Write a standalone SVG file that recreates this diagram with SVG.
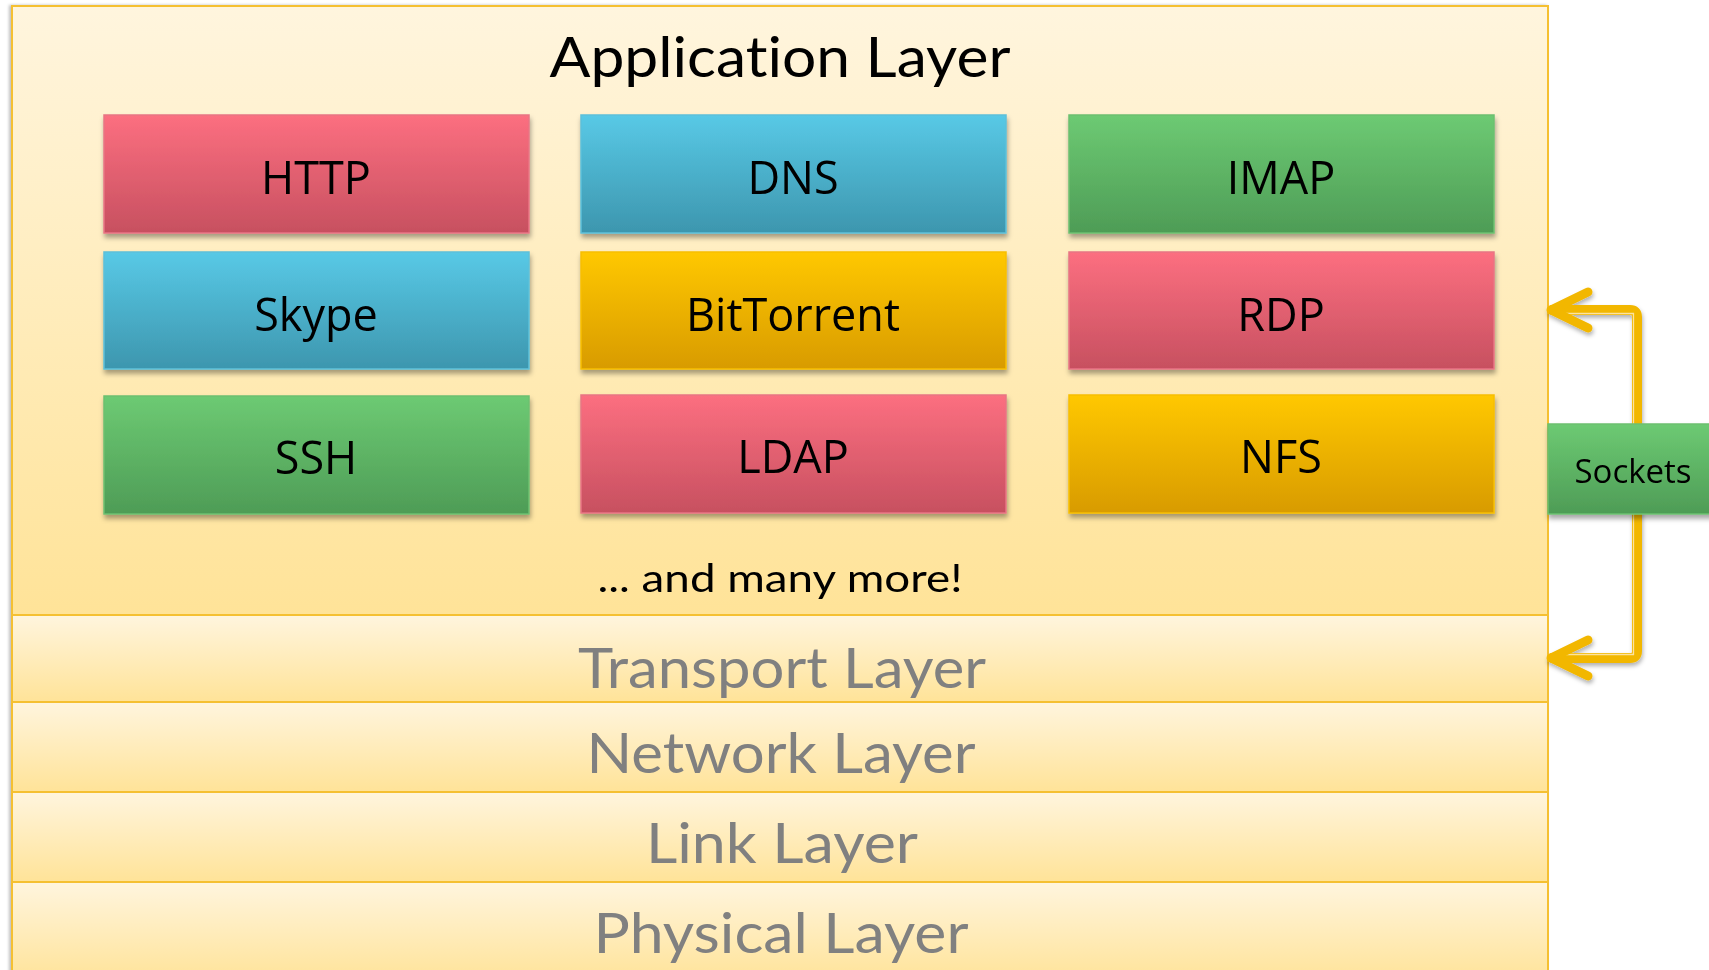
<svg xmlns="http://www.w3.org/2000/svg" width="1709" height="970" viewBox="0 0 1709 970">
<defs>
<linearGradient id="gApp" x1="0" y1="0" x2="0" y2="1"><stop offset="0" stop-color="#FFF5DE"/><stop offset="1" stop-color="#FFE398"/></linearGradient>
<linearGradient id="gBand" x1="0" y1="0" x2="0" y2="1"><stop offset="0" stop-color="#FFF5DE"/><stop offset="1" stop-color="#FFE398"/></linearGradient>
<linearGradient id="gRed" x1="0" y1="0" x2="0" y2="1"><stop offset="0" stop-color="#FC6F80"/><stop offset="1" stop-color="#C75060"/></linearGradient>
<linearGradient id="gBlue" x1="0" y1="0" x2="0" y2="1"><stop offset="0" stop-color="#58C9E6"/><stop offset="1" stop-color="#3D96AE"/></linearGradient>
<linearGradient id="gGreen" x1="0" y1="0" x2="0" y2="1"><stop offset="0" stop-color="#6DCA73"/><stop offset="1" stop-color="#4E9C56"/></linearGradient>
<linearGradient id="gGold" x1="0" y1="0" x2="0" y2="1"><stop offset="0" stop-color="#FFC800"/><stop offset="1" stop-color="#D89B00"/></linearGradient>
<filter id="sh" x="-10%" y="-20%" width="120%" height="150%"><feDropShadow dx="1" dy="4" stdDeviation="2.5" flood-color="#000" flood-opacity="0.35"/></filter>
<filter id="shL" x="-5%" y="-5%" width="110%" height="110%"><feDropShadow dx="-2" dy="0" stdDeviation="1.5" flood-color="#000" flood-opacity="0.25"/></filter>
<filter id="shA" x="-20%" y="-20%" width="140%" height="140%"><feDropShadow dx="1" dy="3" stdDeviation="2" flood-color="#000" flood-opacity="0.3"/></filter>
</defs>
<style>
text{font-variant-ligatures:none}
.band{stroke:#F5C030;stroke-width:2}
.box{stroke-width:1.5}
.bl{font-family:"Open Sans","Noto Sans",sans-serif;font-size:45px;fill:#000;text-anchor:middle}
.layer{font-family:Lato,"Noto Sans",sans-serif;font-size:57px;fill:#808080;text-anchor:middle}
.title{font-family:Lato,"Noto Sans",sans-serif;font-size:56px;fill:#000;text-anchor:middle}
.more{font-family:Lato,"Noto Sans",sans-serif;font-size:39px;fill:#000;text-anchor:middle}
.conn{fill:none;stroke:#F2B700;stroke-width:10;stroke-linecap:round;stroke-linejoin:round}
.connIn{fill:none;stroke:#FCE3A0;stroke-width:1.3}
.head{fill:none;stroke:#F2B700;stroke-width:9;stroke-linecap:round;stroke-linejoin:round}
</style>
<rect width="1709" height="970" fill="#FFFFFF"/>

<g id="layers" filter="url(#shL)">
<g id="application-layer">
<rect class="band" x="12" y="6" width="1536" height="609" fill="url(#gApp)"/>
<text class="title" x="780" y="77" textLength="461" lengthAdjust="spacingAndGlyphs">Application Layer</text>
<text class="more" x="780" y="592" textLength="365" lengthAdjust="spacingAndGlyphs">... and many more!</text>
</g>
<g id="transport-layer">
<rect class="band" x="12" y="615" width="1536" height="87" fill="url(#gBand)"/>
<text class="layer" x="782" y="688" textLength="408" lengthAdjust="spacingAndGlyphs">Transport Layer</text>
</g>
<g id="network-layer">
<rect class="band" x="12" y="702" width="1536" height="90" fill="url(#gBand)"/>
<text class="layer" x="781" y="773" textLength="389" lengthAdjust="spacingAndGlyphs">Network Layer</text>
</g>
<g id="link-layer">
<rect class="band" x="12" y="792" width="1536" height="90" fill="url(#gBand)"/>
<text class="layer" x="782" y="863" textLength="272" lengthAdjust="spacingAndGlyphs">Link Layer</text>
</g>
<g id="physical-layer">
<rect class="band" x="12" y="882" width="1536" height="100" fill="url(#gBand)"/>
<text class="layer" x="781" y="953" textLength="375" lengthAdjust="spacingAndGlyphs">Physical Layer</text>
</g>
</g>

<g id="http" filter="url(#sh)"><rect class="box" x="104" y="115" width="425" height="118" fill="url(#gRed)" stroke="#E87584"/><text class="bl" x="316" y="194">HTTP</text></g>
<g id="dns" filter="url(#sh)"><rect class="box" x="581" y="115" width="425" height="118" fill="url(#gBlue)" stroke="#5CC0DA"/><text class="bl" x="793" y="194">DNS</text></g>
<g id="imap" filter="url(#sh)"><rect class="box" x="1069" y="115" width="425" height="118" fill="url(#gGreen)" stroke="#6CC070"/><text class="bl" x="1281" y="194">IMAP</text></g>

<g id="skype" filter="url(#sh)"><rect class="box" x="104" y="252" width="425" height="117" fill="url(#gBlue)" stroke="#5CC0DA"/><text class="bl" x="316" y="331">Skype</text></g>
<g id="bittorrent" filter="url(#sh)"><rect class="box" x="581" y="252" width="425" height="117" fill="url(#gGold)" stroke="#F7BE00"/><text class="bl" x="793" y="331">BitTorrent</text></g>
<g id="rdp" filter="url(#sh)"><rect class="box" x="1069" y="252" width="425" height="117" fill="url(#gRed)" stroke="#E87584"/><text class="bl" x="1281" y="331">RDP</text></g>

<g id="ssh" filter="url(#sh)"><rect class="box" x="104" y="396" width="425" height="118" fill="url(#gGreen)" stroke="#6CC070"/><text class="bl" x="316" y="474">SSH</text></g>
<g id="ldap" filter="url(#sh)"><rect class="box" x="581" y="395" width="425" height="118" fill="url(#gRed)" stroke="#E87584"/><text class="bl" x="793" y="473">LDAP</text></g>
<g id="nfs" filter="url(#sh)"><rect class="box" x="1069" y="395" width="425" height="118" fill="url(#gGold)" stroke="#F7BE00"/><text class="bl" x="1281" y="473">NFS</text></g>

<g id="connectors" filter="url(#shA)">
<path class="conn" d="M1552,310 H1630 Q1637,310 1637,317 V651 Q1637,658 1630,658 H1552"/>
<path class="connIn" d="M1556,313.5 H1633.5 V654.5 H1556"/>
<polyline class="head" points="1588,292 1551,310 1588,328"/>
<polyline class="head" points="1588,640 1551,658 1588,676"/>
</g>

<g id="sockets" filter="url(#sh)"><rect x="1548" y="424" width="170" height="90" fill="url(#gGreen)" stroke="#6CC070" stroke-width="1.5"/><text x="1633" y="483" font-family="'Open Sans','Noto Sans',sans-serif" font-size="33" fill="#000" text-anchor="middle">Sockets</text></g>
</svg>
